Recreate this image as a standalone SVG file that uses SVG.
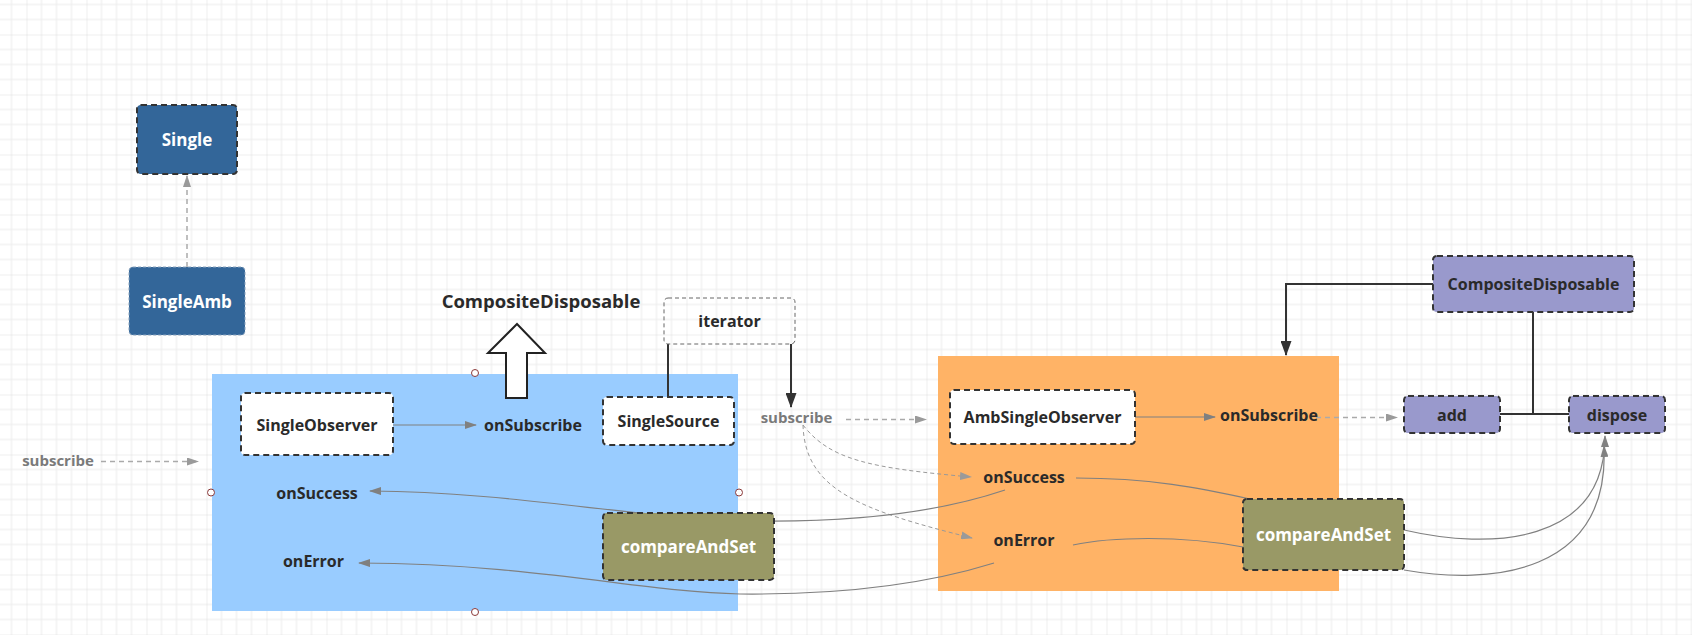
<svg xmlns="http://www.w3.org/2000/svg" width="1692" height="635" viewBox="0 0 1692 635">
  <style>
    .lbl{font-family:"Open Sans","Noto Sans","Liberation Sans",sans-serif;font-weight:700;font-size:16px;text-anchor:middle;dominant-baseline:central;fill:#2a2a2a}
    .light{fill:#ffffff;font-size:17px}
    .muted{fill:#7a7a7a;font-size:15px}
    .big{font-size:18.5px}
    .node-dash{stroke:#333333;stroke-width:2;stroke-dasharray:6 4}
    .wire{fill:none;stroke:#808080;stroke-width:1.2}
    .dash{fill:none;stroke:#aaaaaa;stroke-width:1.5;stroke-dasharray:5 4}
    .dash-thin{fill:none;stroke:#999999;stroke-width:1;stroke-dasharray:4 3}
    .dark{fill:none;stroke:#333333;stroke-width:2}
    .handle{fill:#ffffff;stroke:#8b3a3a;stroke-width:1}
  </style>
  <defs>
    <pattern id="grid" x="26.5" y="34.5" width="60" height="60" patternUnits="userSpaceOnUse">
      <path d="M15 0V60M30 0V60M45 0V60M0 15H60M0 30H60M0 45H60" stroke="#ebebeb" stroke-width="1" fill="none"/>
      <path d="M0 0V60M0 0H60" stroke="#dddddd" stroke-width="1" fill="none"/>
    </pattern>
    <marker id="ah-grey" viewBox="0 0 12 8" refX="11" refY="4" markerWidth="12" markerHeight="8" orient="auto" markerUnits="userSpaceOnUse">
      <path d="M0 0L12 4L0 8z" fill="#808080"/>
    </marker>
    <marker id="ah-light" viewBox="0 0 12 8" refX="11" refY="4" markerWidth="12" markerHeight="8" orient="auto" markerUnits="userSpaceOnUse">
      <path d="M0 0L12 4L0 8z" fill="#9a9a9a"/>
    </marker>
    <marker id="ah-dark" viewBox="0 0 15 11" refX="14" refY="5.5" markerWidth="15" markerHeight="11" orient="auto" markerUnits="userSpaceOnUse">
      <path d="M0 0L15 5.5L0 11z" fill="#333333"/>
    </marker>
  </defs>

  <rect width="1692" height="635" fill="#ffffff"/>
  <rect width="1692" height="635" fill="url(#grid)"/>

  <!-- containers -->
  <g id="single-amb-container">
    <rect x="212" y="374" width="526" height="237" fill="#99ccff"/>
  </g>
  <g id="amb-single-observer-container">
    <rect x="938" y="356" width="401" height="235" fill="#ffb366"/>
  </g>

  <!-- connectors -->
  <g id="connectors">
    <path class="dash" d="M187 267V176" marker-end="url(#ah-light)"/>
    <path class="dash" d="M101 461.5H198" marker-end="url(#ah-light)"/>
    <path class="wire" d="M393 425H476" marker-end="url(#ah-grey)"/>
    <path class="dark" d="M668 344V397"/>
    <path class="dark" d="M791 344V407" marker-end="url(#ah-dark)"/>
    <path class="dash" d="M846 419.5H926" marker-end="url(#ah-light)"/>
    <path class="dash-thin" d="M803 425C830 460 870 468 971 477" marker-end="url(#ah-light)"/>
    <path class="dash-thin" d="M803 425C805 490 860 510 972 538" marker-end="url(#ah-light)"/>
    <path class="wire" d="M1135 417H1215" marker-end="url(#ah-grey)"/>
    <path class="dash" d="M1316 417.5H1397" marker-end="url(#ah-light)"/>
    <path class="dark" d="M1433 284H1286V355" marker-end="url(#ah-dark)"/>
    <path class="dark" d="M1533 312V414M1500 414H1569"/>
    <path class="wire" d="M1005 490C940 512 860 522 760 521C640 520 520 492 370 491" marker-end="url(#ah-grey)"/>
    <path class="wire" d="M994 563C930 583 850 595 740 594C640 592 540 564 359 563" marker-end="url(#ah-grey)"/>
    <path class="wire" d="M1076 478C1150 478 1200 488 1250 499"/>
    <path class="wire" d="M1073 545C1110 537 1180 535 1243 547"/>
    <path class="wire" d="M1404 530C1490 550 1605 545 1605 436" marker-end="url(#ah-grey)"/>
    <path class="wire" d="M1404 570C1490 585 1610 575 1604 446" marker-end="url(#ah-grey)"/>
  </g>

  <!-- selection handles on the blue container -->
  <g id="handles">
    <circle class="handle" cx="475" cy="373" r="3.5"/>
    <circle class="handle" cx="211" cy="492.5" r="3.5"/>
    <circle class="handle" cx="739" cy="492.5" r="3.5"/>
    <circle class="handle" cx="475" cy="612" r="3.5"/>
  </g>

  <!-- nodes -->
  <g id="single">
    <rect class="node-dash" x="137" y="105" width="100" height="69" rx="4" fill="#336699"/>
    <text class="lbl light" x="187" y="139.5">Single</text>
  </g>
  <g id="single-amb">
    <rect x="129" y="267" width="116" height="68" rx="4" fill="#336699" stroke="#8aa3bd" stroke-width="1" stroke-dasharray="3 2"/>
    <text class="lbl light" x="187" y="301">SingleAmb</text>
  </g>
  <g id="subscribe-left">
    <text class="lbl muted" x="58" y="460">subscribe</text>
  </g>
  <g id="composite-disposable-label">
    <text class="lbl big" x="541" y="300">CompositeDisposable</text>
  </g>
  <g id="composite-arrow">
    <path d="M517 324L545 353H527V398H506V353H488Z" fill="#ffffff" stroke="#222222" stroke-width="2" stroke-linejoin="miter"/>
  </g>
  <g id="single-observer">
    <rect class="node-dash" x="241" y="393" width="152" height="62" rx="4" fill="#ffffff"/>
    <text class="lbl" x="317" y="424.5">SingleObserver</text>
  </g>
  <g id="on-subscribe-left">
    <text class="lbl" x="533" y="425">onSubscribe</text>
  </g>
  <g id="iterator">
    <rect class="dash-thin" x="664" y="298" width="131" height="46" rx="4" fill="#ffffff" style="stroke:#666666"/>
    <text class="lbl" x="729.5" y="321">iterator</text>
  </g>
  <g id="single-source">
    <rect class="node-dash" x="603" y="397" width="131" height="48" rx="4" fill="#ffffff"/>
    <text class="lbl" x="668.5" y="421">SingleSource</text>
  </g>
  <g id="on-success-left">
    <text class="lbl" x="317" y="493">onSuccess</text>
  </g>
  <g id="on-error-left">
    <text class="lbl" x="313.5" y="561">onError</text>
  </g>
  <g id="compare-and-set-left">
    <rect class="node-dash" x="603" y="513" width="171" height="67" rx="4" fill="#999966"/>
    <text class="lbl light" x="688.5" y="546.5">compareAndSet</text>
  </g>
  <g id="subscribe-mid">
    <text class="lbl muted" x="796.5" y="417">subscribe</text>
  </g>
  <g id="amb-single-observer">
    <rect class="node-dash" x="950" y="390" width="185" height="54" rx="4" fill="#ffffff"/>
    <text class="lbl" x="1042.5" y="417">AmbSingleObserver</text>
  </g>
  <g id="on-subscribe-right">
    <text class="lbl" x="1269" y="415">onSubscribe</text>
  </g>
  <g id="on-success-right">
    <text class="lbl" x="1024" y="477">onSuccess</text>
  </g>
  <g id="on-error-right">
    <text class="lbl" x="1024" y="540">onError</text>
  </g>
  <g id="compare-and-set-right">
    <rect class="node-dash" x="1243" y="499" width="161" height="71" rx="4" fill="#999966"/>
    <text class="lbl light" x="1323.5" y="534.5">compareAndSet</text>
  </g>
  <g id="composite-disposable">
    <rect class="node-dash" x="1433" y="256" width="201" height="56" rx="4" fill="#9999cc"/>
    <text class="lbl" x="1533.5" y="284">CompositeDisposable</text>
  </g>
  <g id="add">
    <rect class="node-dash" x="1404" y="396" width="96" height="37" rx="4" fill="#9999cc"/>
    <text class="lbl" x="1452" y="414.5">add</text>
  </g>
  <g id="dispose">
    <rect class="node-dash" x="1569" y="396" width="96" height="37" rx="4" fill="#9999cc"/>
    <text class="lbl" x="1617" y="414.5">dispose</text>
  </g>
</svg>
